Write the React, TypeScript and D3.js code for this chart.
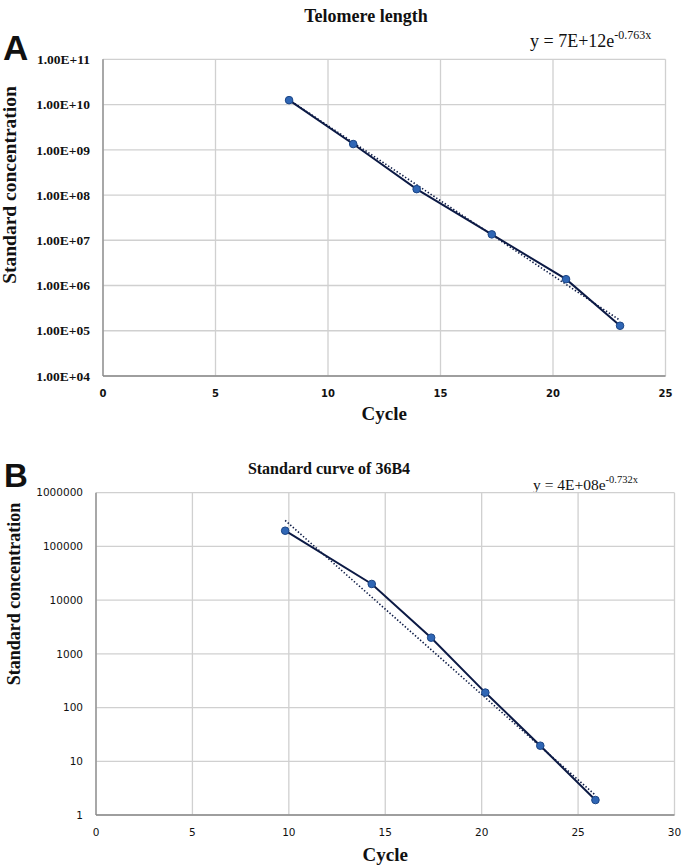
import React from "react";
import * as d3 from "d3";

// ---- Data: Telomere length (A)
const cycleA = [8.27, 11.12, 13.94, 17.28, 20.58, 22.98];
const concA = [1.25e10, 1.34e9, 1.35e8, 1.35e7, 1.38e6, 1.29e5];
const xTicksA = [0, 5, 10, 15, 20, 25];
const yTicksA = [1e4, 1e5, 1e6, 1e7, 1e8, 1e9, 1e10, 1e11];
const trendA = { a: 7e12, b: -0.763 };

// ---- Data: Standard curve of 36B4 (B)
const cycleB = [9.81, 14.3, 17.38, 20.19, 23.04, 25.9];
const concB = [1.96e5, 2.0e4, 2.0e3, 1.9e2, 19.5, 1.9];
const xTicksB = [0, 5, 10, 15, 20, 25, 30];
const yTicksB = [1, 10, 100, 1000, 10000, 100000, 1000000];
const trendB = { a: 4e8, b: -0.732 };

const SERIF = "'Liberation Serif', 'Times New Roman', serif";
const SANS = "'DejaVu Sans', Verdana, sans-serif";
const GRID = "#d0d0d0";
const AXIS = "#8a8a8a";
const LINE = "#0c1a45";
const MARK_FILL = "#2f66b5";
const MARK_STROKE = "#1b4585";

function Panel(props: any) {
  const {
    cycles, concs, xTicks, yTicks, trend, left, right, top, bottom,
    xDomain, yDomain, yFmt, yTickFont, yTickSize, yTickWeight, xTickSize, xTickWeight,
    xTickBaseline, cycleBaseline,
  } = props;
  const x = d3.scaleLinear().domain(xDomain).range([left, right]);
  const y = d3.scaleLog().domain(yDomain).range([bottom, top]);
  const pts = cycles.map((c: number, i: number) => [x(c), y(concs[i])] as [number, number]);
  const line = d3.line()(pts) || "";
  const x0 = d3.min(cycles) as number;
  const x1 = d3.max(cycles) as number;
  const tr = [x0, x1].map((c) => [x(c), y(trend.a * Math.exp(trend.b * c))] as [number, number]);
  const trendPath = d3.line()(tr) || "";
  return (
    <g>
      {xTicks.map((t: number) => (
        <line key={"gx" + t} x1={x(t)} x2={x(t)} y1={top} y2={bottom} stroke={GRID} strokeWidth={1.3} />
      ))}
      {yTicks.map((t: number) => (
        <line key={"gy" + t} x1={left} x2={right} y1={y(t)} y2={y(t)} stroke={GRID} strokeWidth={1.3} />
      ))}
      <line x1={left} x2={left} y1={top} y2={bottom} stroke={AXIS} strokeWidth={1.3} />
      <line x1={left} x2={right} y1={bottom} y2={bottom} stroke={AXIS} strokeWidth={1.3} />
      {xTicks.map((t: number) => (
        <text key={"tx" + t} x={x(t)} y={xTickBaseline} textAnchor="middle" fontFamily={SANS}
          fontSize={xTickSize} fontWeight={xTickWeight} fill="#111">{t}</text>
      ))}
      {yTicks.map((t: number) => (
        <text key={"ty" + t} x={left - 13} y={y(t)} dy="0.35em" textAnchor="end" fontFamily={yTickFont}
          fontSize={yTickSize} fontWeight={yTickWeight} fill="#111">{yFmt(t)}</text>
      ))}
      <path d={trendPath} fill="none" stroke={LINE} strokeWidth={1.6} strokeDasharray="1.4,2" />
      <path d={line} fill="none" stroke={LINE} strokeWidth={2} />
      {pts.map((p: [number, number], i: number) => (
        <circle key={"p" + i} cx={p[0]} cy={p[1]} r={3.8} fill={MARK_FILL} stroke={MARK_STROKE} strokeWidth={1} />
      ))}
      <text x={(left + right) / 2} y={cycleBaseline} textAnchor="middle" fontFamily={SERIF}
        fontSize={19} fontWeight="bold" fill="#111">Cycle</text>
    </g>
  );
}

export default function App() {
  const fmtA = (v: number) => {
    const e = Math.round(Math.log10(v));
    return "1.00E+" + (e < 10 ? "0" + e : String(e));
  };
  const fmtB = (v: number) => String(v);
  return (
    <svg width={683} height={867} style={{ position: "absolute", left: 0, top: 0, background: "#fff" }}>
      <rect x={0} y={0} width={683} height={867} fill="#fff" />
      {/* Panel A */}
      <text x={3} y={60} fontFamily="'Liberation Sans', Arial, sans-serif" fontSize={35} fontWeight="bold" fill="#111">A</text>
      <text x={366} y={22} textAnchor="middle" fontFamily={SERIF} fontSize={18} fontWeight="bold" fill="#111">Telomere length</text>
      <text x={530} y={47} fontFamily={SERIF} fontSize={18} fill="#111">
        y = 7E+12e<tspan dy={-8} fontSize={12}>-0.763x</tspan>
      </text>
      <text transform="translate(16,185) rotate(-90)" textAnchor="middle" fontFamily={SERIF} fontSize={19.5}
        fontWeight="bold" fill="#111">Standard concentration</text>
      <Panel cycles={cycleA} concs={concA} xTicks={xTicksA} yTicks={yTicksA} trend={trendA}
        left={103} right={665.5} top={59.3} bottom={376} xDomain={[0, 25]} yDomain={[1e4, 1e11]}
        yFmt={fmtA} yTickFont={SERIF} yTickSize={13.5} yTickWeight="bold" xTickSize={10} xTickWeight="bold"
        xTickBaseline={397} cycleBaseline={420} />
      {/* Panel B */}
      <text x={4} y={487} fontFamily="'Liberation Sans', Arial, sans-serif" fontSize={33} fontWeight="bold" fill="#111">B</text>
      <text x={329} y={474} textAnchor="middle" fontFamily={SERIF} fontSize={16} fontWeight="bold" fill="#111">Standard curve of 36B4</text>
      <text x={533} y={490} fontFamily={SERIF} fontSize={15.5} fill="#111">
        y = 4E+08e<tspan dy={-7} fontSize={10.5}>-0.732x</tspan>
      </text>
      <text transform="translate(20,594) rotate(-90)" textAnchor="middle" fontFamily={SERIF} fontSize={18}
        fontWeight="bold" fill="#111">Standard concentration</text>
      <Panel cycles={cycleB} concs={concB} xTicks={xTicksB} yTicks={yTicksB} trend={trendB}
        left={96} right={674.5} top={492.7} bottom={815} xDomain={[0, 30]} yDomain={[1, 1e6]}
        yFmt={fmtB} yTickFont={SANS} yTickSize={10.5} yTickWeight="normal" xTickSize={10.5} xTickWeight="normal"
        xTickBaseline={836} cycleBaseline={861} />
    </svg>
  );
}
